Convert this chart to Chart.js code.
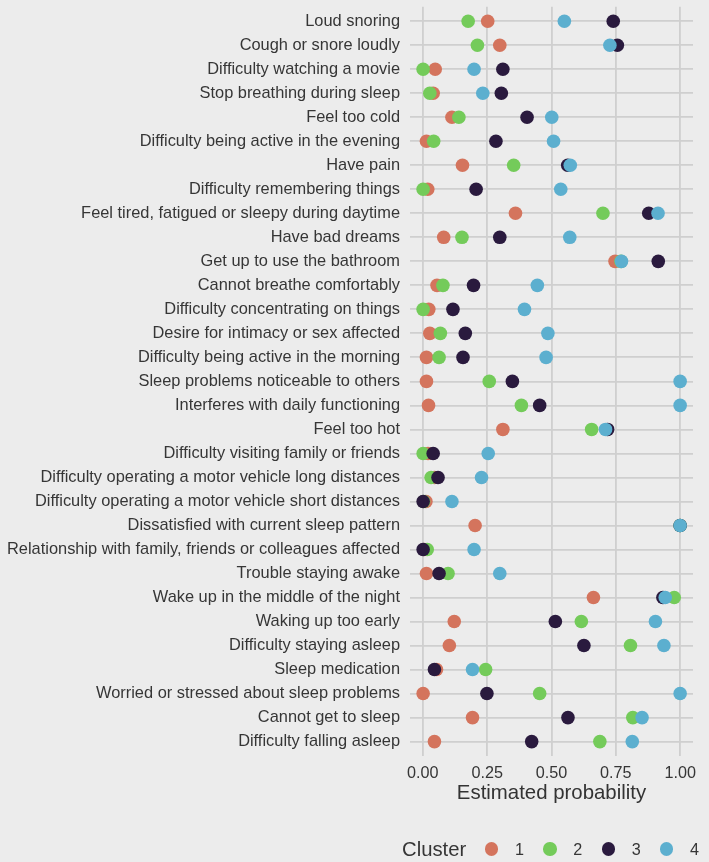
<!DOCTYPE html>
<html><head><meta charset="utf-8">
<script src="https://cdn.jsdelivr.net/npm/chart.js@4.4.0/dist/chart.umd.min.js"></script>
<style>
html,body{margin:0;padding:0;background:#ECECEC;}
#wrap{position:relative;width:709px;height:862px;overflow:hidden;}
canvas{position:absolute;left:0;top:0;}
#legend{position:absolute;left:402px;top:837px;height:24px;display:flex;align-items:center;font-family:"Liberation Sans",Arial,sans-serif;color:#363636;}
#legend .title{font-size:20.3px;margin-right:18.5px;}
#legend .dot{width:13.4px;height:13.4px;border-radius:50%;margin-right:16.8px;flex:none;}
#legend .lab{font-size:16.2px;margin-right:19.2px;}
</style></head>
<body><div id="wrap"><canvas id="c" width="709" height="862"></canvas><div id="legend"></div></div>
<script>
const categories = [
  "Loud snoring",
  "Cough or snore loudly",
  "Difficulty watching a movie",
  "Stop breathing during sleep",
  "Feel too cold",
  "Difficulty being active in the evening",
  "Have pain",
  "Difficulty remembering things",
  "Feel tired, fatigued or sleepy during daytime",
  "Have bad dreams",
  "Get up to use the bathroom",
  "Cannot breathe comfortably",
  "Difficulty concentrating on things",
  "Desire for intimacy or sex affected",
  "Difficulty being active in the morning",
  "Sleep problems noticeable to others",
  "Interferes with daily functioning",
  "Feel too hot",
  "Difficulty visiting family or friends",
  "Difficulty operating a motor vehicle long distances",
  "Difficulty operating a motor vehicle short distances",
  "Dissatisfied with current sleep pattern",
  "Relationship with family, friends or colleagues affected",
  "Trouble staying awake",
  "Wake up in the middle of the night",
  "Waking up too early",
  "Difficulty staying asleep",
  "Sleep medication",
  "Worried or stressed about sleep problems",
  "Cannot get to sleep",
  "Difficulty falling asleep"
];
const cluster1 = [0.252,0.299,0.048,0.040,0.113,0.014,0.154,0.019,0.360,0.081,0.747,0.055,0.023,0.027,0.014,0.014,0.022,0.311,0.020,0.045,0.012,0.203,0.005,0.014,0.663,0.122,0.103,0.053,0.001,0.193,0.045];
const cluster2 = [0.176,0.212,0.001,0.027,0.140,0.042,0.353,0.001,0.700,0.152,0.770,0.078,0.001,0.068,0.063,0.258,0.383,0.656,0.001,0.032,0.003,1.000,0.017,0.098,0.977,0.616,0.807,0.244,0.454,0.816,0.688];
const cluster3 = [0.740,0.756,0.311,0.305,0.405,0.284,0.563,0.207,0.878,0.299,0.915,0.197,0.117,0.165,0.156,0.348,0.454,0.718,0.040,0.059,0.001,1.000,0.001,0.063,0.933,0.515,0.626,0.045,0.249,0.564,0.423];
const cluster4 = [0.550,0.727,0.199,0.233,0.501,0.508,0.573,0.536,0.914,0.571,0.772,0.445,0.395,0.486,0.479,1.000,1.000,0.710,0.254,0.228,0.113,1.000,0.199,0.299,0.942,0.904,0.937,0.193,1.000,0.852,0.814];
const clusterNames = ["1","2","3","4"];
const clusterColors = ["#D4745D","#74CB5A","#2A1A3E","#5CAFCF"];
const xTicks = [0, 0.25, 0.5, 0.75, 1];
const xTickLabels = ["0.00","0.25","0.50","0.75","1.00"];
const xTitle = "Estimated probability";
const legendTitle = "Cluster";

const FONT = '"Liberation Sans", Arial, sans-serif';
const TEXT = '#363636';
const GRID = '#CFCFCF';
Chart.defaults.font.family = FONT;

const series = [cluster1, cluster2, cluster3, cluster4];
const datasets = series.map((vals, k) => ({
  label: clusterNames[k],
  data: vals.map((v, i) => ({x: v, y: i})),
  backgroundColor: clusterColors[k],
  borderWidth: 0,
  pointRadius: 6.8,
  pointHoverRadius: 6.8,
  order: series.length - k
}));

new Chart(document.getElementById('c'), {
  type: 'scatter',
  data: {datasets},
  options: {
    responsive: false,
    animation: false,
    devicePixelRatio: 1,
    layout: {padding: {left: 0, right: 16, top: 4, bottom: 56}},
    plugins: {legend: {display: false}, tooltip: {enabled: false}},
    scales: {
      x: {
        type: 'linear', min: -0.05, max: 1.05,
        afterBuildTicks: s => { s.ticks = xTicks.map(v => ({value: v})); },
        afterFit: s => { s.height = 50; s.paddingLeft = 0; s.paddingRight = 0; },
        ticks: {callback: (v) => xTickLabels[xTicks.indexOf(v)], font: {size: 16.2}, color: TEXT, padding: 8, maxRotation: 0},
        grid: {color: GRID, lineWidth: 1.8, drawTicks: false},
        border: {display: false},
        title: {display: true, text: xTitle, font: {size: 20.4}, color: '#333', padding: {top: 0, bottom: 0}}
      },
      y: {
        type: 'linear', reverse: true, min: -0.6, max: categories.length - 0.4,
        afterBuildTicks: s => { s.ticks = categories.map((_, i) => ({value: i})); },
        afterFit: s => { s.width = 410; s.paddingTop = 0; s.paddingBottom = 0; },
        ticks: {callback: (v) => categories[v], font: {size: 16.4}, color: TEXT, padding: 10, autoSkip: false},
        grid: {color: GRID, lineWidth: 1.8, drawTicks: false},
        border: {display: false}
      }
    }
  }
});

const lg = document.getElementById('legend');
const t = document.createElement('span'); t.className = 'title'; t.textContent = legendTitle; lg.appendChild(t);
clusterNames.forEach((n, k) => {
  const d = document.createElement('span'); d.className = 'dot'; d.style.background = clusterColors[k]; lg.appendChild(d);
  const l = document.createElement('span'); l.className = 'lab'; l.textContent = n; lg.appendChild(l);
});
</script>
</body></html>
